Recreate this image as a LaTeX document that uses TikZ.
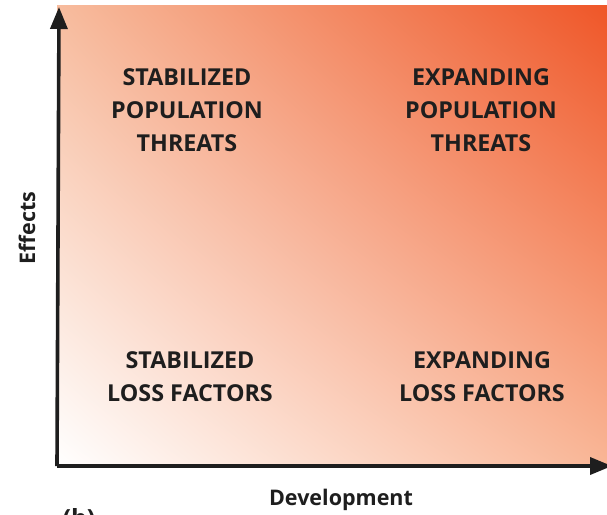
\documentclass[tikz,border=0pt]{standalone}
\usepackage{fontspec}
\setmainfont{Open Sans}
\usepackage{tikz}
\usetikzlibrary{arrows.meta,positioning,shadings}
\definecolor{hotorange}{RGB}{239,86,40}
\definecolor{peach}{RGB}{247,188,158}
\definecolor{peachlow}{RGB}{249,182,150}
\definecolor{inkblack}{RGB}{30,30,30}

\begin{document}
\begin{tikzpicture}[
  x=1pt,y=-1pt,
  quad/.style={align=center,font=\fontsize{23.3}{33}\selectfont\bfseries,text=inkblack},
  axislabel/.style={font=\fontsize{21.5}{24}\selectfont\bfseries,text=inkblack},
  axis/.style={draw=inkblack,line width=3.6pt,-{Triangle[length=22pt,width=17pt]}}
]
\useasboundingbox (0,0) rectangle (607,514);
% gradient field of the chart
\shade[upper left=peach,upper right=hotorange,lower left=white,lower right=peachlow]
  (57,5) rectangle (607,466);
% axes
\coordinate (origin) at (59,466);
\coordinate (ytip) at (59,7);
\coordinate (xtip) at (612,466);
\draw[axis] (57,466) -- (ytip);
\draw[axis] (57.2,466) -- (xtip);
% quadrant texts
\node[quad] (stabthreat) at (187,110) {STABILIZED\\POPULATION\\THREATS};
\node[quad] (expthreat) at (481,110) {EXPANDING\\POPULATION\\THREATS};
\node[quad] (stabloss) at (190,377) {STABILIZED\\LOSS FACTORS};
\node[quad] (exploss) at (482,377) {EXPANDING\\LOSS FACTORS};
% axis labels
\node[axislabel,rotate=90] (effects) at (27,228) {Effects};
\node[axislabel] (develop) at (341,500) {Development};
\node[axislabel,font=\fontsize{25}{28}\selectfont\bfseries] (panel) at (79,520) {(b)};
\end{tikzpicture}
\end{document}
